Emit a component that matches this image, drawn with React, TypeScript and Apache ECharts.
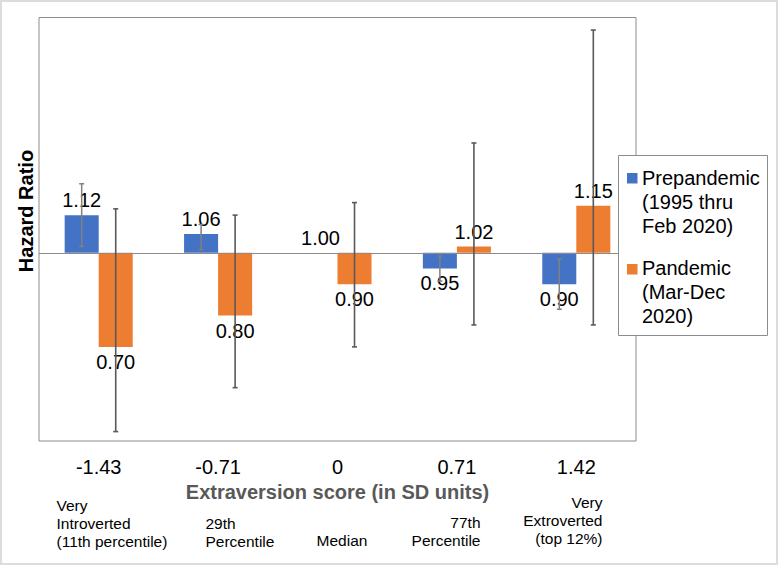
import React, { useEffect, useRef } from "react";
import * as echarts from "echarts";

const categories = ["-1.43", "-0.71", "0", "0.71", "1.42"];
const prepandemicHR = [1.12, 1.06, 1.0, 0.95, 0.9];
const pandemicHR = [0.7, 0.8, 0.9, 1.02, 1.15];
const prepandemicLower: (number | null)[] = [1.02, 1.01, null, 0.91, 0.82];
const prepandemicUpper: (number | null)[] = [1.22, 1.09, null, 0.99, 0.98];
const pandemicLower = [0.43, 0.57, 0.7, 0.77, 0.77];
const pandemicUpper = [1.14, 1.12, 1.16, 1.35, 1.71];
const legendNames = ["Prepandemic\n(1995 thru\nFeb 2020)", "Pandemic\n(Mar-Dec\n2020)"];
const seriesNames = ["Prepandemic (1995 thru Feb 2020)", "Pandemic (Mar-Dec 2020)"];
const percentileNotes = [
  "Very\nIntroverted\n(11th percentile)",
  "29th\nPercentile",
  "Median",
  "77th\nPercentile",
  "Very\nExtroverted\n(top 12%)",
];
const yAxisTitle = "Hazard Ratio";
const xAxisTitle = "Extraversion score (in SD units)";
const baselineHR = 1;
const yMinHR = 0.4;
const yMaxHR = 1.75;

const BLUE = "#4472C4";
const ORANGE = "#ED7D31";
const FONT = "'Liberation Sans', Arial, Helvetica, sans-serif";
const GAP = 0.43;

function barData(vals: number[]) {
  return vals.map((v) => {
    const d = v - baselineHR;
    return { value: d, label: { position: d >= 0 ? "top" : "bottom" } };
  });
}

function errData(lo: (number | null)[], hi: (number | null)[]) {
  const out: number[][] = [];
  lo.forEach((l, i) => {
    const h = hi[i];
    if (l != null && h != null) out.push([i, l - baselineHR, h - baselineHR]);
  });
  return out;
}

function errSeries(name: string, data: number[][], side: number, color: string, width: number) {
  return {
    type: "custom",
    name,
    z: 5,
    silent: true,
    data,
    renderItem: (_params: any, api: any) => {
      const idx = api.value(0);
      const band = api.size([1, 0])[0];
      const off = (side * band * (1 - GAP)) / 4;
      const top = api.coord([idx, api.value(2)]);
      const bot = api.coord([idx, api.value(1)]);
      const x = top[0] + off;
      const cap = 2.5;
      const st = { stroke: color, lineWidth: width };
      return {
        type: "group",
        children: [
          { type: "line", shape: { x1: x, y1: top[1], x2: x, y2: bot[1] }, style: st },
          { type: "line", shape: { x1: x - cap, y1: top[1], x2: x + cap, y2: top[1] }, style: st },
          { type: "line", shape: { x1: x - cap, y1: bot[1], x2: x + cap, y2: bot[1] }, style: st },
        ],
      };
    },
  };
}

function txt(text: string, x: number, y: number, size: number, align: string, vAlign: string, extra: any = {}) {
  return {
    type: "text",
    x,
    y,
    z: 110,
    silent: true,
    style: {
      text,
      fontSize: size,
      fontFamily: FONT,
      fill: "#000",
      align,
      textAlign: align,
      verticalAlign: vAlign,
      textVerticalAlign: vAlign,
      ...extra,
    },
  };
}

export default function App() {
  const ref = useRef<HTMLDivElement>(null);
  useEffect(() => {
    document.body.style.margin = "0";
    if (!ref.current) return;
    const chart = echarts.init(ref.current, undefined, { renderer: "svg" });
    const labelStyle = {
      show: true,
      fontSize: 20,
      fontFamily: FONT,
      color: "#000",
      distance: 5,
    };
    const option: any = {
      animation: false,
      backgroundColor: "#fff",
      grid: {
        left: 39,
        top: 17.5,
        right: 144,
        bottom: 125,
        show: true,
        borderColor: "#8c8c8c",
        borderWidth: 1,
        backgroundColor: "transparent",
      },
      xAxis: {
        type: "category",
        data: categories,
        axisLine: { show: false },
        axisTick: { show: false },
        axisLabel: { fontSize: 20, fontFamily: FONT, color: "#000", margin: 16 },
        name: xAxisTitle,
        nameLocation: "middle",
        nameGap: 41,
        nameTextStyle: { fontSize: 20, fontWeight: "bold", fontFamily: FONT, color: "#595959" },
      },
      yAxis: {
        type: "value",
        min: yMinHR - baselineHR,
        max: yMaxHR - baselineHR,
        axisLine: { show: false },
        axisTick: { show: false },
        axisLabel: { show: false },
        splitLine: { show: false },
      },
      series: [
        {
          type: "bar",
          name: seriesNames[0],
          data: barData(prepandemicHR),
          itemStyle: { color: BLUE },
          barGap: "0%",
          barCategoryGap: GAP * 100 + "%",
          z: 3,
          label: { ...labelStyle, formatter: (p: any) => prepandemicHR[p.dataIndex].toFixed(2) },
          markLine: {
            silent: true,
            symbol: "none",
            label: { show: false },
            lineStyle: { color: "#8c8c8c", width: 1, type: "solid" },
            data: [{ yAxis: 0 }],
          },
        },
        {
          type: "bar",
          name: seriesNames[1],
          data: barData(pandemicHR),
          itemStyle: { color: ORANGE },
          barGap: "0%",
          barCategoryGap: GAP * 100 + "%",
          z: 3,
          label: { ...labelStyle, formatter: (p: any) => pandemicHR[p.dataIndex].toFixed(2) },
        },
        errSeries("Prepandemic CI", errData(prepandemicLower, prepandemicUpper), -1, "#808080", 1.5),
        errSeries("Pandemic CI", errData(pandemicLower, pandemicUpper), 1, "#595959", 1.6),
      ],
      graphic: [
        {
          type: "rect",
          z: 0,
          silent: true,
          shape: { x: 1, y: 1, width: 776, height: 563 },
          style: { fill: "none", stroke: "#dcdcdc", lineWidth: 2 },
        },
        {
          type: "text",
          x: 26,
          y: 211,
          rotation: Math.PI / 2,
          z: 110,
          silent: true,
          style: {
            text: yAxisTitle,
            fontSize: 20,
            fontWeight: "bold",
            fontFamily: FONT,
            fill: "#000",
            align: "center",
            textAlign: "center",
            verticalAlign: "middle",
            textVerticalAlign: "middle",
          },
        },
        {
          type: "rect",
          z: 100,
          silent: true,
          shape: { x: 618.5, y: 155.5, width: 149, height: 180 },
          style: { fill: "#fff", stroke: "#8c8c8c", lineWidth: 1 },
        },
        { type: "rect", z: 105, silent: true, shape: { x: 627, y: 173, width: 10.5, height: 10.5 }, style: { fill: BLUE } },
        { type: "rect", z: 105, silent: true, shape: { x: 627, y: 264, width: 10.5, height: 10.5 }, style: { fill: ORANGE } },
        txt(legendNames[0], 642, 166.5, 20, "left", "top", { lineHeight: 23.8 }),
        txt(legendNames[1], 642, 256, 20, "left", "top", { lineHeight: 23.8 }),
        txt(percentileNotes[0], 56.5, 523, 15.5, "left", "middle", { lineHeight: 18 }),
        txt(percentileNotes[1], 205.5, 532, 15.5, "left", "middle", { lineHeight: 18 }),
        txt(percentileNotes[2], 342, 540, 15.5, "center", "middle", { lineHeight: 18 }),
        txt(percentileNotes[3], 480.5, 531.5, 15.5, "right", "middle", { lineHeight: 18 }),
        txt(percentileNotes[4], 602.5, 520, 15.5, "right", "middle", { lineHeight: 18 }),
      ],
    };
    chart.setOption(option);
    return () => chart.dispose();
  }, []);
  return (
    <div
      ref={ref}
      style={{ position: "absolute", left: 0, top: 0, width: 780, height: 566, background: "#fff" }}
    />
  );
}
